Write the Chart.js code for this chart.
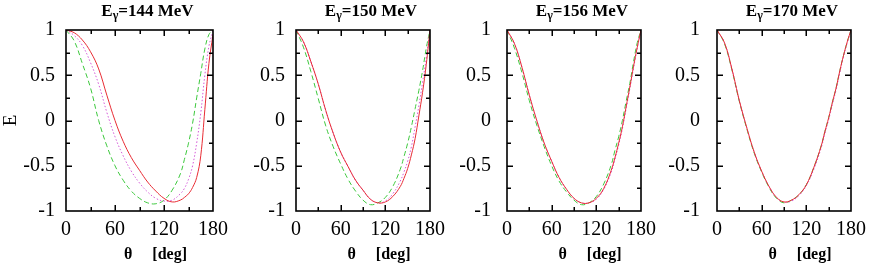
<!DOCTYPE html>
<html>
<head>
<meta charset="utf-8">
<script src="https://cdn.jsdelivr.net/npm/chart.js@4/dist/chart.umd.min.js"></script>
<style>
  html, body { margin: 0; padding: 0; background: #fff; }
  #wrap { position: relative; width: 889px; height: 268px; overflow: hidden; }
  canvas { position: absolute; top: 0; }
  .ttl { position: absolute; top: 1px; font-family: "Liberation Serif", serif; font-weight: bold; font-size: 17px; color: #000; text-align: center; white-space: nowrap; line-height: 20px; }
  .ttl sub { font-size: 12px; vertical-align: -3px; line-height: 0; }
</style>
</head>
<body>
<div id="wrap"></div>
<script>
// ---- data ----
const angles = [0, 10, 20, 30, 40, 50, 60, 70, 80, 90, 100, 110, 120, 130, 140, 145, 150, 155, 160, 165, 170, 175, 180];

const energies = ['144', '150', '156', '170'];
const xTickLabels = [0, 60, 120, 180];
const yTickLabels = [-1, -0.5, 0, 0.5, 1];

// E_gamma = 144 MeV
const red144 = [1, 0.97, 0.89, 0.76, 0.57, 0.28, 0.0, -0.23, -0.41, -0.55, -0.68, -0.78, -0.86, -0.90, -0.88, -0.85, -0.81, -0.74, -0.63, -0.39, 0.12, 0.63, 0.95];
const mag144 = [1, 0.94, 0.83, 0.64, 0.40, 0.09, -0.18, -0.39, -0.56, -0.69, -0.79, -0.86, -0.89, -0.88, -0.81, -0.75, -0.65, -0.50, -0.25, 0.08, 0.50, 0.82, 0.99];
const grn144 = [1, 0.88, 0.63, 0.36, 0.0, -0.28, -0.50, -0.66, -0.78, -0.86, -0.91, -0.92, -0.88, -0.77, -0.59, -0.43, -0.25, -0.03, 0.25, 0.52, 0.79, 0.95, 1.0];
// E_gamma = 150 MeV
const red150 = [1, 0.87, 0.65, 0.40, 0.11, -0.14, -0.35, -0.51, -0.66, -0.77, -0.87, -0.91, -0.90, -0.84, -0.73, -0.64, -0.53, -0.38, -0.20, 0.05, 0.31, 0.62, 1.0];
const mag150 = [1, 0.87, 0.65, 0.40, 0.11, -0.14, -0.35, -0.51, -0.66, -0.77, -0.87, -0.91, -0.89, -0.81, -0.67, -0.57, -0.45, -0.29, -0.07, 0.16, 0.42, 0.69, 1.0];
const grn150 = [1, 0.81, 0.54, 0.24, -0.06, -0.29, -0.48, -0.65, -0.78, -0.88, -0.93, -0.91, -0.85, -0.73, -0.54, -0.40, -0.25, -0.07, 0.13, 0.33, 0.55, 0.80, 1.0];
// E_gamma = 156 MeV
const red156 = [1, 0.85, 0.59, 0.28, 0.0, -0.25, -0.45, -0.63, -0.76, -0.86, -0.91, -0.91, -0.86, -0.75, -0.55, -0.41, -0.25, -0.07, 0.15, 0.37, 0.60, 0.81, 1.0];
const mag156 = [1, 0.85, 0.59, 0.28, 0.0, -0.25, -0.45, -0.63, -0.76, -0.86, -0.91, -0.91, -0.87, -0.76, -0.57, -0.43, -0.27, -0.09, 0.13, 0.35, 0.58, 0.80, 1.0];
const grn156 = [1, 0.80, 0.53, 0.22, -0.05, -0.29, -0.50, -0.67, -0.79, -0.88, -0.93, -0.91, -0.84, -0.70, -0.49, -0.33, -0.18, 0.0, 0.21, 0.41, 0.65, 0.86, 1.0];
// E_gamma = 170 MeV
const red170 = [1, 0.86, 0.57, 0.22, -0.08, -0.35, -0.56, -0.73, -0.85, -0.90, -0.88, -0.82, -0.71, -0.52, -0.28, -0.12, 0.03, 0.20, 0.36, 0.55, 0.72, 0.87, 1.0];
const mag170 = [1, 0.86, 0.57, 0.22, -0.08, -0.35, -0.56, -0.73, -0.85, -0.90, -0.89, -0.83, -0.72, -0.54, -0.30, -0.14, 0.01, 0.18, 0.34, 0.53, 0.71, 0.86, 1.0];
const grn170 = [1, 0.85, 0.56, 0.21, -0.09, -0.36, -0.57, -0.74, -0.86, -0.91, -0.88, -0.82, -0.71, -0.52, -0.28, -0.12, 0.03, 0.20, 0.36, 0.55, 0.72, 0.87, 1.0];

const panelSeries = [
  [red144, mag144, grn144],
  [red150, mag150, grn150],
  [red156, mag156, grn156],
  [red170, mag170, grn170]
];

// ---- layout ----
const boxes = [
  { left: 66, right: 229, labelPad: 11 },
  { left: 296, right: 446, labelPad: 11 },
  { left: 507, right: 657, labelPad: 16 },
  { left: 717, right: 867, labelPad: 17 }
];
const BOX_TOP = 30, BOX_BOTTOM = 211, H = 268, YAXW = 66, RPAD = 6;

const styles = [
  { color: '#e82c34', dash: [] },
  { color: '#d458d8', dash: [1.5, 2] },
  { color: '#3cc83c', dash: [5, 3] }
];

const SERIF = '"Liberation Serif", "DejaVu Serif", serif';

const frameTicks = {
  id: 'frameTicks',
  afterDatasetsDraw(chart) {
    const { ctx, chartArea: a, scales: { x, y } } = chart;
    ctx.save();
    ctx.strokeStyle = '#000';
    ctx.lineWidth = 1.5;
    ctx.beginPath();
    [30, 60, 90, 120, 150].forEach(v => {
      const px = Math.round(x.getPixelForValue(v)) + 0.25;
      const len = v % 60 === 0 ? 6 : 4;
      ctx.moveTo(px, a.bottom); ctx.lineTo(px, a.bottom - len);
      ctx.moveTo(px, a.top); ctx.lineTo(px, a.top + len);
    });
    [-0.75, -0.5, -0.25, 0, 0.25, 0.5, 0.75].forEach(v => {
      const py = Math.round(y.getPixelForValue(v)) + 0.25;
      const len = (v * 2) % 1 === 0 ? 6 : 4;
      ctx.moveTo(a.left, py); ctx.lineTo(a.left + len, py);
      ctx.moveTo(a.right, py); ctx.lineTo(a.right - len, py);
    });
    ctx.stroke();
    ctx.lineWidth = 1.6;
    ctx.strokeRect(a.left, a.top, a.right - a.left, a.bottom - a.top);
    ctx.restore();
  }
};

const wrap = document.getElementById('wrap');

boxes.forEach((b, i) => {
  const cw = (b.right - b.left) + YAXW + RPAD;
  const cl = b.left - YAXW;
  const cv = document.createElement('canvas');
  cv.width = cw; cv.height = H;
  cv.style.left = cl + 'px';
  cv.style.width = cw + 'px'; cv.style.height = H + 'px';
  wrap.appendChild(cv);

  const t = document.createElement('div');
  t.className = 'ttl';
  t.style.left = b.left + 'px';
  t.style.width = (b.right - b.left) + 'px';
  t.innerHTML = 'E<sub>γ</sub>=' + energies[i] + ' MeV';
  wrap.appendChild(t);

  const datasets = panelSeries[i].map((vals, k) => ({
    label: ['solid', 'dotted', 'dashed'][k],
    data: angles.map((a, j) => ({ x: a, y: vals[j] })),
    borderColor: styles[k].color,
    borderDash: styles[k].dash,
    borderWidth: 1,
    pointRadius: 0,
    fill: false,
    tension: 0.4
  }));

  new Chart(cv, {
    type: 'line',
    data: { datasets },
    options: {
      responsive: false,
      animation: false,
      devicePixelRatio: 1,
      layout: { padding: { left: 0, right: RPAD, top: BOX_TOP, bottom: 0 } },
      plugins: { legend: { display: false }, tooltip: { enabled: false }, title: { display: false } },
      scales: {
        x: {
          type: 'linear', min: 0, max: 180,
          afterBuildTicks: s => { s.ticks = xTickLabels.map(v => ({ value: v })); },
          afterFit: s => { s.height = H - BOX_BOTTOM; },
          grid: { display: false, drawTicks: false },
          border: { display: false },
          ticks: { color: '#000', font: { family: SERIF, size: 20 }, padding: 7, maxRotation: 0, autoSkip: false, callback: v => String(v) },
          title: { display: true, text: '        θ     [deg]', color: '#000', font: { family: SERIF, size: 16, weight: 'bold' }, padding: { top: 0, bottom: 4 } }
        },
        y: {
          type: 'linear', min: -1, max: 1,
          afterBuildTicks: s => { s.ticks = yTickLabels.map(v => ({ value: v })); },
          afterFit: s => { s.width = YAXW; },
          grid: { display: false, drawTicks: false },
          border: { display: false },
          ticks: { color: '#000', font: { family: SERIF, size: 20 }, padding: b.labelPad, autoSkip: false, callback: v => String(v) },
          title: { display: i === 0, text: 'E', color: '#000', font: { family: SERIF, size: 19 }, padding: { top: 0, bottom: 0 } }
        }
      }
    },
    plugins: [frameTicks]
  });
});
</script>
</body>
</html>
